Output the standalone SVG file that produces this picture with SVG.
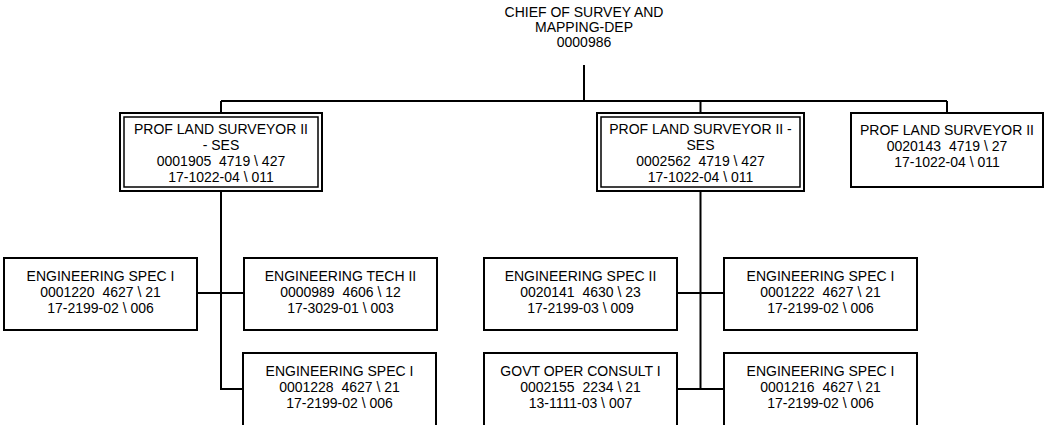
<svg xmlns="http://www.w3.org/2000/svg" width="1045" height="425" viewBox="0 0 1045 425">
<style>
text{font-family:"Liberation Sans",Arial,sans-serif;font-size:14px;fill:#000;text-anchor:middle;white-space:pre}
.box{fill:#fff;stroke:#000;stroke-width:2}
.inner{fill:none;stroke:#000;stroke-width:1.5}
.conn{fill:none;stroke:#000;stroke-width:2}
</style>
<rect width="1045" height="425" fill="#fff"/>
<g id="connectors">
<path class="conn" d="M584 65V101M221 101H947M221 101V113M700.5 101V113M947 101V113"/>
<path class="conn" d="M221 191V389H243M197 293H244"/>
<path class="conn" d="M700.5 191V389M677 293H724M677 389H724"/>
</g>
<g id="chief">
<text x="584" y="17">CHIEF OF SURVEY AND</text>
<text x="584" y="32">MAPPING-DEP</text>
<text x="584" y="47">0000986</text>
</g>
<g id="pls1">
<rect class="box" x="120" y="113" width="202" height="78"/>
<rect class="inner" x="124" y="117" width="194" height="70"/>
<text x="221" y="134">PROF LAND SURVEYOR II</text>
<text x="221" y="150">- SES</text>
<text x="221" y="166">0001905  4719 \ 427</text>
<text x="221" y="182">17-1022-04 \ 011</text>
</g>
<g id="pls2">
<rect class="box" x="597" y="113" width="207" height="78"/>
<rect class="inner" x="601" y="117" width="199" height="70"/>
<text x="700.5" y="134">PROF LAND SURVEYOR II -</text>
<text x="700.5" y="150">SES</text>
<text x="700.5" y="166">0002562  4719 \ 427</text>
<text x="700.5" y="182">17-1022-04 \ 011</text>
</g>
<g id="pls3">
<rect class="box" x="851" y="113" width="192" height="74"/>
<text x="947" y="135">PROF LAND SURVEYOR II</text>
<text x="947" y="151">0020143  4719 \ 27</text>
<text x="947" y="167">17-1022-04 \ 011</text>
</g>
<g id="es1220">
<rect class="box" x="4" y="258" width="193" height="72"/>
<text x="100.5" y="281">ENGINEERING SPEC I</text>
<text x="100.5" y="297">0001220  4627 \ 21</text>
<text x="100.5" y="313">17-2199-02 \ 006</text>
</g>
<g id="et0989">
<rect class="box" x="244" y="258" width="193" height="72"/>
<text x="340.5" y="281">ENGINEERING TECH II</text>
<text x="340.5" y="297">0000989  4606 \ 12</text>
<text x="340.5" y="313">17-3029-01 \ 003</text>
</g>
<g id="es1228">
<rect class="box" x="243" y="353" width="193" height="74"/>
<text x="339.5" y="376">ENGINEERING SPEC I</text>
<text x="339.5" y="392">0001228  4627 \ 21</text>
<text x="339.5" y="408">17-2199-02 \ 006</text>
</g>
<g id="es0141">
<rect class="box" x="484" y="258" width="193" height="72"/>
<text x="580.5" y="281">ENGINEERING SPEC II</text>
<text x="580.5" y="297">0020141  4630 \ 23</text>
<text x="580.5" y="313">17-2199-03 \ 009</text>
</g>
<g id="es1222">
<rect class="box" x="724" y="258" width="193" height="72"/>
<text x="820.5" y="281">ENGINEERING SPEC I</text>
<text x="820.5" y="297">0001222  4627 \ 21</text>
<text x="820.5" y="313">17-2199-02 \ 006</text>
</g>
<g id="goc2155">
<rect class="box" x="484" y="353" width="193" height="74"/>
<text x="580.5" y="376">GOVT OPER CONSULT I</text>
<text x="580.5" y="392">0002155  2234 \ 21</text>
<text x="580.5" y="408">13-1111-03 \ 007</text>
</g>
<g id="es1216">
<rect class="box" x="724" y="353" width="193" height="74"/>
<text x="820.5" y="376">ENGINEERING SPEC I</text>
<text x="820.5" y="392">0001216  4627 \ 21</text>
<text x="820.5" y="408">17-2199-02 \ 006</text>
</g>
</svg>
